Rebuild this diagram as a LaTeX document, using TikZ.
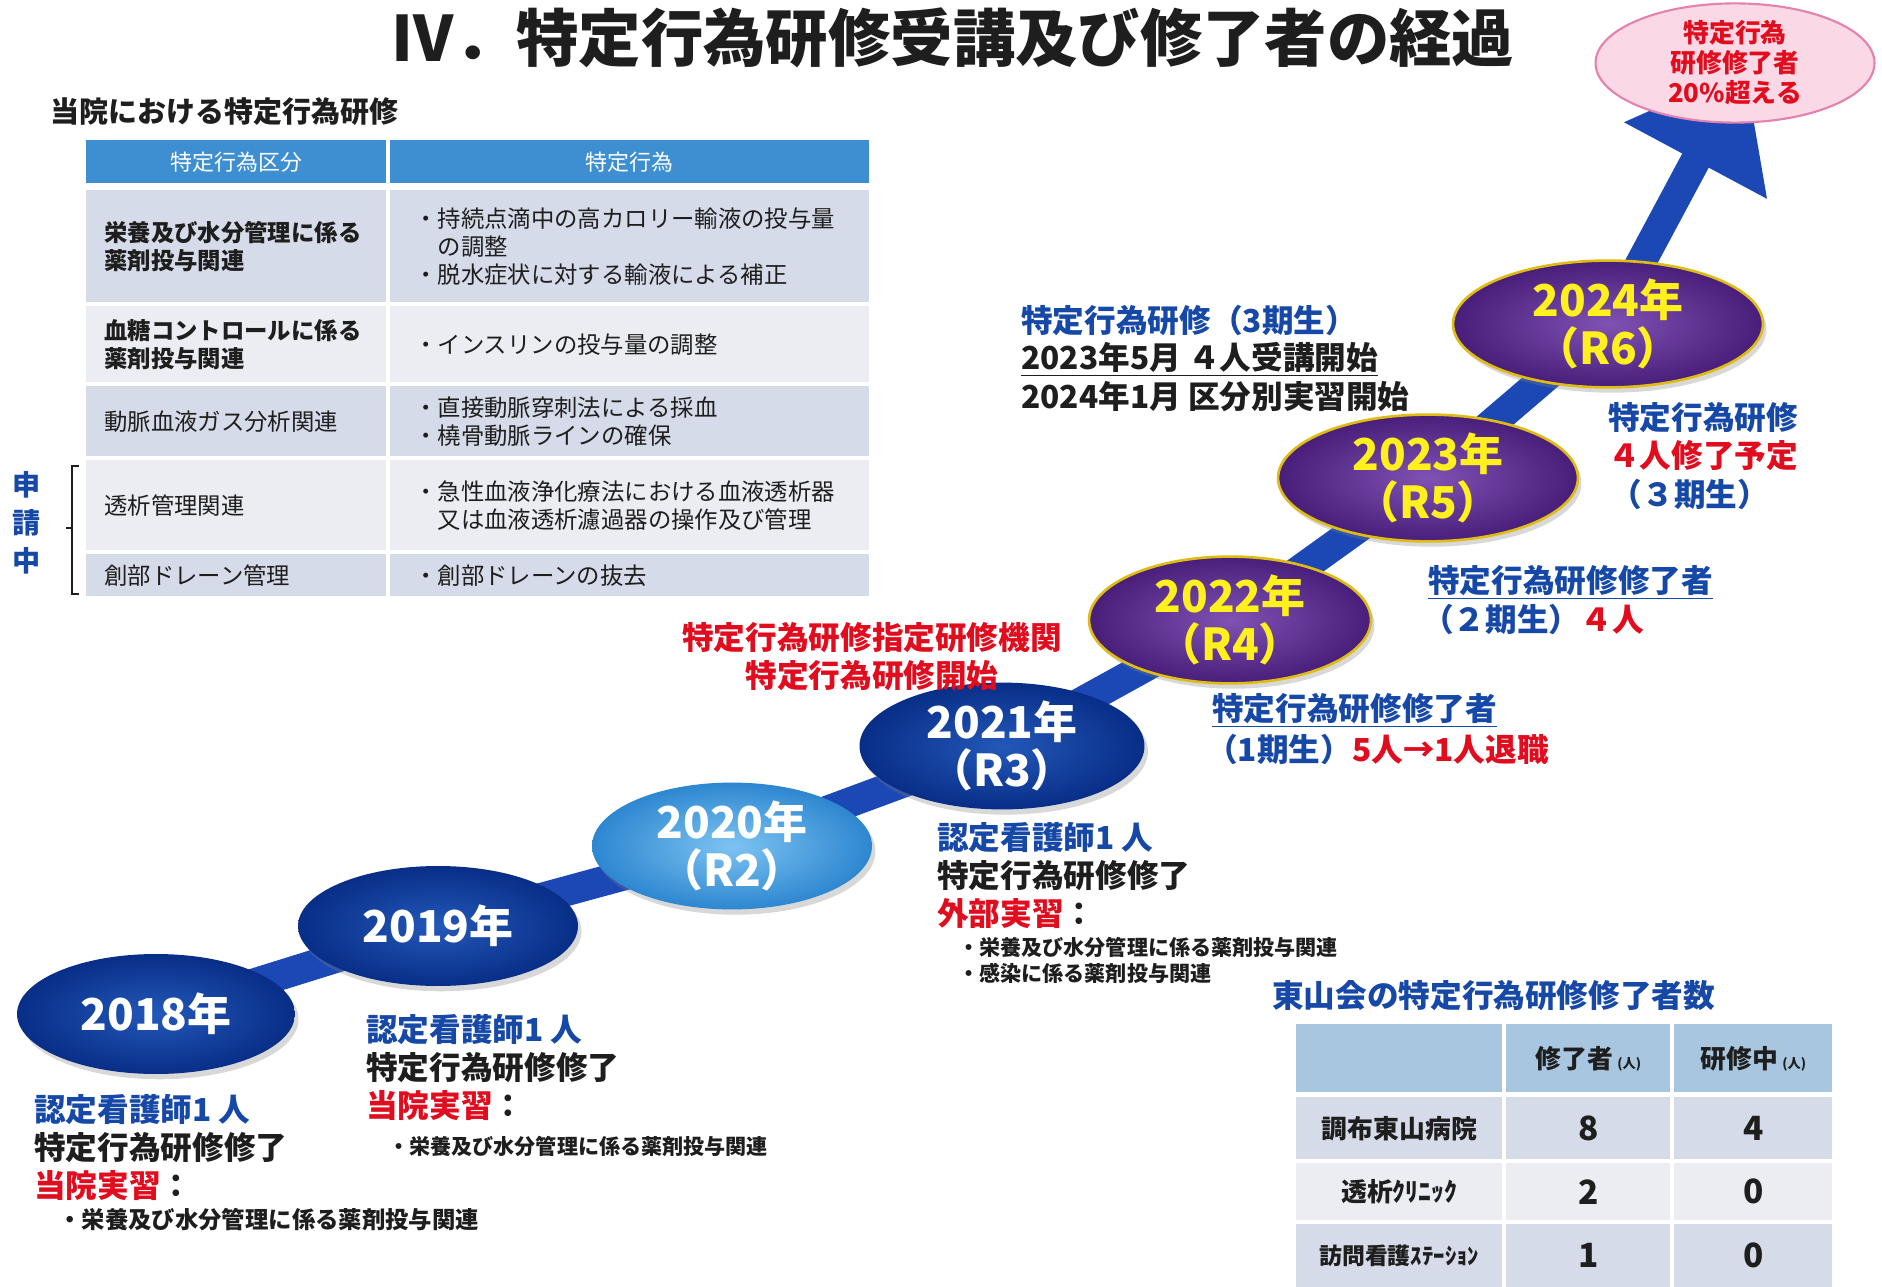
\documentclass[tikz,border=0pt]{standalone}
\usepackage{fontspec}
\setmainfont{Noto Sans CJK JP}
\usepackage{tikz}
\usetikzlibrary{shapes.geometric,arrows.meta,shadows,backgrounds}

\definecolor{ink}{RGB}{30,30,30}
\definecolor{shaftblue}{RGB}{27,72,180}
\definecolor{deepin}{RGB}{35,88,185}
\definecolor{deepout}{RGB}{8,46,135}
\definecolor{skyin}{RGB}{125,195,242}
\definecolor{skyout}{RGB}{45,135,208}
\definecolor{violin}{RGB}{128,82,178}
\definecolor{violout}{RGB}{72,30,122}
\definecolor{gold}{RGB}{222,188,20}
\definecolor{yearyellow}{RGB}{255,240,30}
\definecolor{pinkfill}{RGB}{250,216,229}
\definecolor{pinkline}{RGB}{228,130,175}
\definecolor{redtxt}{RGB}{225,12,30}
\definecolor{bluetxt}{RGB}{22,72,168}
\definecolor{headblue}{RGB}{62,143,210}
\definecolor{rowdark}{RGB}{214,219,233}
\definecolor{rowlight}{RGB}{236,237,242}
\definecolor{headsteel}{RGB}{168,198,224}

\newcommand{\fsz}[2]{\fontsize{#1}{#2}\selectfont}

\begin{document}
\begin{tikzpicture}[x=0.02cm, y=-0.02cm,
    yr/.style={ellipse, minimum width=5.6cm, minimum height=2.4cm, inner sep=0pt,
      align=center, text=white, font=\bfseries\fsz{25}{27},
      drop shadow={opacity=0.3, shadow xshift=2pt, shadow yshift=-3pt}},
    yrdeep/.style={yr, inner color=deepin, outer color=deepout},
    yrsky/.style={yr, inner color=skyin, outer color=skyout},
    yrviolet/.style={yr, inner color=violin, outer color=violout, draw=gold,
      line width=1.5pt, text=yearyellow},
    goal/.style={ellipse, minimum width=5.58cm, minimum height=2.14cm, inner sep=0pt,
      fill=pinkfill, draw=pinkline, line width=1.2pt, align=center, text=redtxt,
      font=\bfseries\fsz{14.7}{17}},
    hd/.style={anchor=north west, inner sep=0pt, fill=headblue, text=white,
      minimum height=0.86cm, font=\fsz{12.5}{15}},
    cl/.style={anchor=north west, inner xsep=0.36cm, inner ysep=0pt, text width=5.28cm,
      align=left, text=ink, font=\fsz{13.3}{16}},
    cr/.style={anchor=north west, inner xsep=0.48cm, inner ysep=0pt, text width=8.62cm,
      align=left, text=ink, font=\fsz{13.3}{16}},
    rt/.style={anchor=north west, inner sep=0pt, align=center, text=ink,
      font=\bfseries\fsz{14.7}{17}},
    num/.style={rt, font=\bfseries\fsz{19}{22}},
    note/.style={anchor=west, inner sep=0pt, text=ink, font=\bfseries\fsz{18}{21}},
    dot/.style={anchor=west, inner sep=0pt, text=ink, font=\bfseries\fsz{12}{14}},
  ]
  \useasboundingbox (0,0) rectangle (1882,1287);

  % title
  \node [text=ink, font=\bfseries\fsz{35.5}{40}] (title) at (953,38) {Ⅳ．特定行為研修受講及び修了者の経過};
  \node [anchor=west, inner sep=0pt, text=ink, font=\bfseries\fsz{16.5}{20}] (sub) at (50,112) {当院における特定行為研修};

  % table of acts
  \node [hd, minimum width=6cm] (t0a) at (86,140) {特定行為区分};
  \node [hd, minimum width=9.58cm] (t0b) at (390,140) {特定行為};
  \node [cl, fill=rowdark, minimum height=2.24cm, font=\bfseries\fsz{13.3}{16}] (t1a) at (86,190) {栄養及び水分管理に係る\\薬剤投与関連};
  \node [cr, fill=rowdark, minimum height=2.24cm] (t1b) at (390,190) {・持続点滴中の高カロリー輸液の投与量\\\hspace*{1em}の調整\\・脱水症状に対する輸液による補正};
  \node [cl, fill=rowlight, minimum height=1.52cm, font=\bfseries\fsz{13.3}{16}] (t2a) at (86,306) {血糖コントロールに係る\\薬剤投与関連};
  \node [cr, fill=rowlight, minimum height=1.52cm] (t2b) at (390,306) {・インスリンの投与量の調整};
  \node [cl, fill=rowdark, minimum height=1.40cm] (t3a) at (86,386) {動脈血液ガス分析関連};
  \node [cr, fill=rowdark, minimum height=1.40cm] (t3b) at (390,386) {・直接動脈穿刺法による採血\\・橈骨動脈ラインの確保};
  \node [cl, fill=rowlight, minimum height=1.80cm] (t4a) at (86,460) {透析管理関連};
  \node [cr, fill=rowlight, minimum height=1.80cm] (t4b) at (390,460) {・急性血液浄化療法における血液透析器\\\hspace*{1em}又は血液透析濾過器の操作及び管理};
  \node [cl, fill=rowdark, minimum height=0.84cm] (t5a) at (86,554) {創部ドレーン管理};
  \node [cr, fill=rowdark, minimum height=0.84cm] (t5b) at (390,554) {・創部ドレーンの抜去};

  \node [align=center, text=bluetxt, font=\bfseries\fsz{16}{21.5}] (apply) at (27,523) {申\\請\\中};
  \draw [ink, line width=1.2pt] (79,466) -- (72,466) -- (72,594) -- (79,594);
  \draw [ink, line width=1.2pt] (72,528) -- (66,528);

  % years
  \node [yrdeep, minimum width=5.56cm] (e18) at (156,1014) {2018年};
  \node [yrdeep] (e19) at (438,926) {2019年};
  \node [yrsky] (e20) at (732,846) {2020年\\（R2）};
  \node [yrdeep, minimum width=5.7cm, minimum height=2.3cm] (e21) at (1002,746) {2021年\\（R3）};
  \node [yrviolet, minimum width=5.64cm, minimum height=2.36cm] (e22) at (1230,620) {2022年\\（R4）};
  \node [yrviolet, minimum width=6cm, minimum height=2.3cm] (e23) at (1428,478) {2023年\\（R5）};
  \node [yrviolet, minimum width=6.2cm] (e24) at (1608,324) {2024年\\（R6）};
  \coordinate (tipend) at (1745,68);
  \node [goal] (goal) at (1735,63) {特定行為\\研修修了者\\20\%超える};

  % 2018
  \node [note, text=bluetxt] (n18a) at (34,1110) {認定看護師1\hspace{0.2em}人};
  \node [note] (n18b) at (34,1148) {特定行為研修修了};
  \node [note] (n18c) at (34,1186) {\textcolor{redtxt}{当院実習}：};
  \node [dot, font=\bfseries\fsz{13.3}{16}] (n18d) at (58,1220) {・栄養及び水分管理に係る薬剤投与関連};
  % 2019
  \node [note, text=bluetxt] (n19a) at (366,1030) {認定看護師1\hspace{0.2em}人};
  \node [note] (n19b) at (366,1068) {特定行為研修修了};
  \node [note] (n19c) at (366,1106) {\textcolor{redtxt}{当院実習}：};
  \node [dot] (n19d) at (388,1146) {・栄養及び水分管理に係る薬剤投与関連};
  % 2021
  \node [note, anchor=center, text=redtxt] (org1) at (872,638) {特定行為研修指定研修機関};
  \node [note, anchor=center, text=redtxt] (org2) at (872,676) {特定行為研修開始};
  \node [note, text=bluetxt] (n21a) at (937,838) {認定看護師1\hspace{0.2em}人};
  \node [note] (n21b) at (937,876) {特定行為研修修了};
  \node [note] (n21c) at (937,914) {\textcolor{redtxt}{外部実習}：};
  \node [dot] (n21d) at (958,947) {・栄養及び水分管理に係る薬剤投与関連};
  \node [dot] (n21e) at (958,973) {・感染に係る薬剤投与関連};
  % cohorts
  \node [note, text=bluetxt] (c1a) at (1212,710) {\underline{特定行為研修修了者}};
  \node [note, text=bluetxt] (c1b) at (1206,749) {（1期生）\textcolor{redtxt}{5人→1人退職}};
  \node [note, text=bluetxt] (c2a) at (1428,582) {\underline{特定行為研修修了者}};
  \node [note, text=bluetxt] (c2b) at (1422,619) {（２期生）\textcolor{redtxt}{４人}};
  \node [note, anchor=center, text=bluetxt] (c3a) at (1703,418) {特定行為研修};
  \node [note, anchor=center, text=redtxt] (c3b) at (1703,456) {４人修了予定};
  \node [note, anchor=center, text=bluetxt] (c3c) at (1690,494) {（３期生）};
  \node [note, text=bluetxt] (c3d) at (1021,320) {特定行為研修（3期生）};
  \node [note] (c3e) at (1021,359) {\underline{2023年5月\ ４人受講開始}};
  \node [note] (c3f) at (1021,397) {2024年1月 区分別実習開始};

  % totals table
  \node [note, text=bluetxt] (sum) at (1272,996) {東山会の特定行為研修修了者数};
  \node [rt, fill=headsteel, minimum width=4.12cm, minimum height=1.36cm] (s0a) at (1296,1024) {};
  \node [rt, fill=headsteel, minimum width=3.28cm, minimum height=1.36cm] (s0b) at (1506,1024) {修了者\,{\fsz{7.5}{9}(人)}};
  \node [rt, fill=headsteel, minimum width=3.16cm, minimum height=1.36cm] (s0c) at (1674,1024) {研修中\,{\fsz{7.5}{9}(人)}};
  \node [rt, fill=rowdark, minimum width=4.12cm, minimum height=1.24cm] (s1a) at (1296,1097) {調布東山病院};
  \node [num, fill=rowdark, minimum width=3.28cm, minimum height=1.24cm] (s1b) at (1506,1097) {8};
  \node [num, fill=rowdark, minimum width=3.16cm, minimum height=1.24cm] (s1c) at (1674,1097) {4};
  \node [rt, fill=rowlight, minimum width=4.12cm, minimum height=1.14cm] (s2a) at (1296,1163) {透析ｸﾘﾆｯｸ};
  \node [num, fill=rowlight, minimum width=3.28cm, minimum height=1.14cm] (s2b) at (1506,1163) {2};
  \node [num, fill=rowlight, minimum width=3.16cm, minimum height=1.14cm] (s2c) at (1674,1163) {0};
  \node [rt, fill=rowdark, minimum width=4.12cm, minimum height=1.26cm, font=\bfseries\fsz{13}{16}] (s3a) at (1296,1224) {訪問看護ｽﾃｰｼｮﾝ};
  \node [num, fill=rowdark, minimum width=3.28cm, minimum height=1.26cm] (s3b) at (1506,1224) {1};
  \node [num, fill=rowdark, minimum width=3.16cm, minimum height=1.26cm] (s3c) at (1674,1224) {0};

  % rising arrow behind the years
  \begin{scope}[on background layer]
    \fill [white] (0,0) rectangle (1882,1287);
    \draw [shaftblue, line width=0.6cm, line join=round, -{Triangle[width=3.1cm,length=2.1cm]}]
      (e18.center) -- (e19.center) -- (e20.center) -- (e21.center) -- (e22.center)
      -- (e23.center) -- (e24.center) -- (tipend);
  \end{scope}
\end{tikzpicture}
\end{document}
